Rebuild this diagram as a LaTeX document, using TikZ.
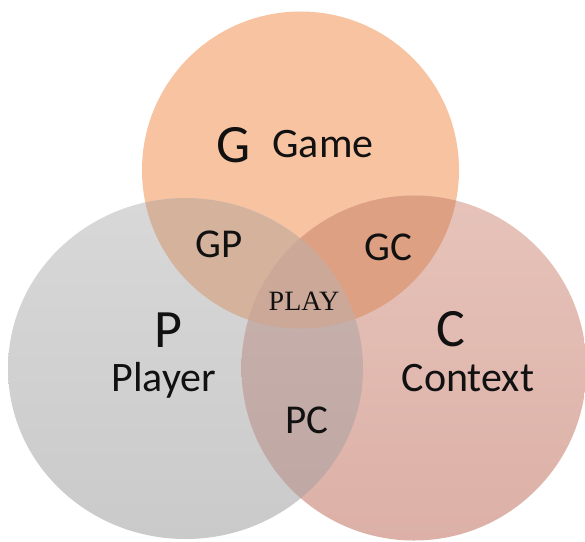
\documentclass[tikz,border=0pt]{standalone}
\usepackage{fontspec}
\setmainfont{Carlito}
\newfontfamily\playfont{Liberation Serif}
\definecolor{cG}{RGB}{248,195,161}
\definecolor{cPtop}{RGB}{216,216,216}
\definecolor{cPbot}{RGB}{202,202,202}
\definecolor{cCtop}{RGB}{230,195,186}
\definecolor{cCbot}{RGB}{220,176,166}
\definecolor{cGP}{RGB}{212,178,156}
\definecolor{cGC}{RGB}{222,160,130}
\definecolor{cPCtop}{RGB}{202,180,176}
\definecolor{cPCbot}{RGB}{190,166,162}
\definecolor{cGPC}{RGB}{203,168,152}
\definecolor{ink}{RGB}{17,17,17}
\tikzset{
  biglbl/.style={anchor=base,inner sep=0pt,text=ink,font=\fontsize{54}{54}\selectfont},
  namelbl/.style={anchor=base,inner sep=0pt,text=ink,font=\fontsize{42}{42}\selectfont},
  seclbl/.style={anchor=base,inner sep=0pt,text=ink,font=\fontsize{41}{41}\selectfont},
  playlbl/.style={anchor=base,inner sep=0pt,text=ink,font=\playfont\fontsize{28}{28}\selectfont}
}
\begin{document}
\begin{tikzpicture}[x=1pt,y=-1pt]
\useasboundingbox (0,0) rectangle (585,541);
\fill[white] (0,0) rectangle (585,541);
\coordinate (g) at (300.5,170);
\coordinate (p) at (185.5,368.5);
\coordinate (c) at (414,368);
\def\Gpath{(g) circle[radius=158.5]}
\def\Ppath{(p) ellipse[x radius=177.5,y radius=170.5]}
\def\Cpath{(c) circle[radius=172.5]}
\begin{scope}
\clip (0,0) rectangle (585,541);
\fill[cG] \Gpath;
\shade[top color=cPtop,bottom color=cPbot] \Ppath;
\shade[top color=cCtop,bottom color=cCbot] \Cpath;
\begin{scope}
  \clip \Gpath;
  \fill[cGP] \Ppath;
  \fill[cGC] \Cpath;
\end{scope}
\begin{scope}
  \clip \Ppath;
  \shade[top color=cPCtop,bottom color=cPCbot] \Cpath;
\end{scope}
\begin{scope}
  \clip \Gpath;
  \clip \Ppath;
  \fill[cGPC] \Cpath;
\end{scope}
\end{scope}
\node[biglbl] (G) at (234,162) {G};
\node[namelbl] (game) at (323,157) {Game};
\node[seclbl] (GP) at (219,257) {GP};
\node[seclbl] (GC) at (388,260) {GC};
\node[playlbl] (play) at (304,310) {PLAY};
\node[biglbl] (P) at (168,347) {P};
\node[namelbl] (player) at (164,391) {Player};
\node[biglbl] (C) at (451,346) {C};
\node[namelbl] (context) at (468,391) {Context};
\node[seclbl] (PC) at (307,433) {PC};
\end{tikzpicture}
\end{document}
